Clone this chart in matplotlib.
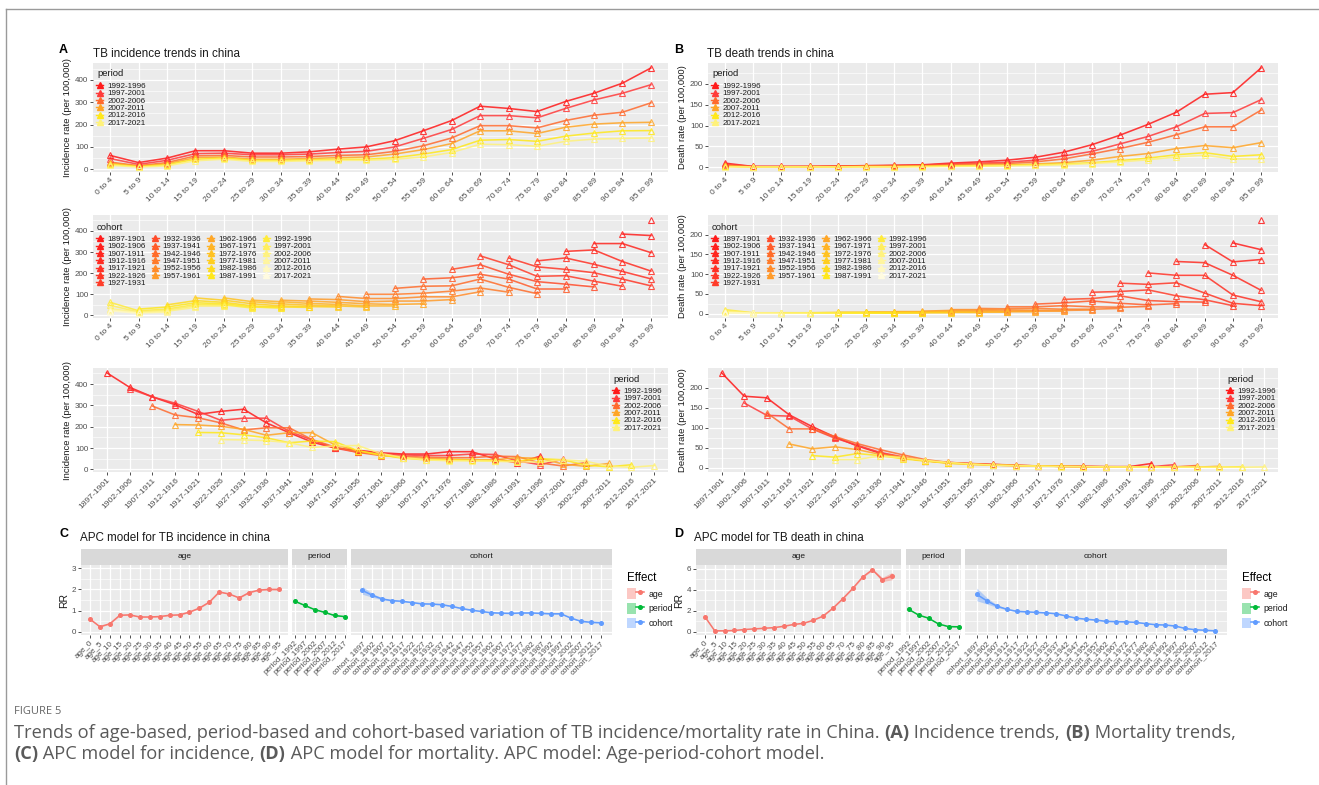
import matplotlib
matplotlib.use("Agg")
import matplotlib.pyplot as plt
import numpy as np
from matplotlib.colors import LinearSegmentedColormap
from matplotlib.lines import Line2D
from matplotlib.patches import Patch
from matplotlib.legend_handler import HandlerTuple
from matplotlib.ticker import AutoMinorLocator

W, H = 1319, 785
plt.rcParams['font.family'] = ['Liberation Sans', 'DejaVu Sans']

# ---- data -------------------------------------------------------------
age_groups = ["0 to 4", "5 to 9", "10 to 14", "15 to 19", "20 to 24", "25 to 29",
              "30 to 34", "35 to 39", "40 to 44", "45 to 49", "50 to 54", "55 to 59",
              "60 to 64", "65 to 69", "70 to 74", "75 to 79", "80 to 84", "85 to 89",
              "90 to 94", "95 to 99"]
periods = ["1992-1996", "1997-2001", "2002-2006", "2007-2011", "2012-2016", "2017-2021"]
cohorts = ["1897-1901", "1902-1906", "1907-1911", "1912-1916", "1917-1921", "1922-1926",
           "1927-1931", "1932-1936", "1937-1941", "1942-1946", "1947-1951", "1952-1956",
           "1957-1961", "1962-1966", "1967-1971", "1972-1976", "1977-1981", "1982-1986",
           "1987-1991", "1992-1996", "1997-2001", "2002-2006", "2007-2011", "2012-2016",
           "2017-2021"]

# incidence per 100,000 by age group, one list per period
inc_1992 = [62, 30, 50, 83, 83, 72, 72, 78, 90, 100, 128, 172, 218, 282, 272, 258, 303, 340, 385, 453]
inc_1997 = [48, 22, 40, 70, 72, 65, 65, 68, 75, 80, 100, 138, 178, 240, 240, 230, 272, 310, 340, 378]
inc_2002 = [32, 16, 30, 60, 62, 55, 55, 57, 62, 65, 80, 105, 140, 195, 195, 185, 218, 242, 255, 297]
inc_2007 = [28, 14, 25, 52, 55, 45, 45, 48, 52, 55, 68, 88, 115, 172, 172, 160, 188, 202, 208, 210]
inc_2012 = [22, 12, 20, 45, 50, 40, 40, 42, 45, 45, 52, 68, 88, 130, 133, 125, 148, 162, 172, 173]
inc_2017 = [18, 10, 15, 38, 45, 35, 35, 38, 40, 40, 45, 55, 75, 112, 110, 103, 125, 135, 138, 140]

# deaths per 100,000 by age group, one list per period
death_1992 = [10, 2, 2, 2, 3, 4, 5, 6, 10, 13, 17, 24, 36, 54, 77, 103, 132, 175, 179, 238]
death_1997 = [7, 2, 2, 2, 3, 3, 4, 5, 8, 10, 12, 17, 27, 38, 56, 74, 97, 129, 131, 162]
death_2002 = [5, 1.5, 1.5, 2, 2, 3, 3, 4, 6, 8, 9, 13, 20, 32, 45, 60, 78, 97, 97, 137]
death_2007 = [3, 1, 1, 1.5, 1.5, 2, 2, 3, 4, 5, 6, 8, 11, 17, 26, 33, 45, 52, 47, 59]
death_2012 = [2, 0.8, 0.8, 1, 1, 1.5, 1.5, 2, 3, 3.5, 4.5, 6, 8, 11, 16, 22, 30, 35, 26, 30]
death_2017 = [1.5, 0.6, 0.6, 0.8, 0.8, 1, 1.2, 1.5, 2, 2.5, 3.5, 4.5, 6, 9, 13, 18, 25, 29, 20, 20]

inc_ticks = [0, 100, 200, 300, 400]
death_ticks = [0, 50, 100, 150, 200]

# APC model effects (rate ratios) and CI half widths
apc_age_labels = ["age_0", "age_5", "age_10", "age_15", "age_20", "age_25", "age_30",
                  "age_35", "age_40", "age_45", "age_50", "age_55", "age_60", "age_65",
                  "age_70", "age_75", "age_80", "age_85", "age_90", "age_95"]
apc_period_labels = ["period_1992", "period_1997", "period_2002", "period_2007",
                     "period_2012", "period_2017"]
apc_cohort_labels = ["cohort_1897", "cohort_1902", "cohort_1907", "cohort_1912",
                     "cohort_1917", "cohort_1922", "cohort_1927", "cohort_1932",
                     "cohort_1937", "cohort_1942", "cohort_1947", "cohort_1952",
                     "cohort_1957", "cohort_1962", "cohort_1967", "cohort_1972",
                     "cohort_1977", "cohort_1982", "cohort_1987", "cohort_1992",
                     "cohort_1997", "cohort_2002", "cohort_2007", "cohort_2012",
                     "cohort_2017"]

inc_age_rr = [0.60, 0.24, 0.38, 0.78, 0.80, 0.70, 0.70, 0.72, 0.78, 0.80, 0.93, 1.12,
              1.40, 1.88, 1.78, 1.60, 1.85, 1.97, 2.00, 2.00]
inc_age_ci = [0.03, 0.02, 0.02, 0.02, 0.02, 0.02, 0.02, 0.02, 0.02, 0.02, 0.02, 0.02,
              0.02, 0.02, 0.02, 0.02, 0.02, 0.02, 0.03, 0.04]
inc_period_rr = [1.45, 1.25, 1.05, 0.92, 0.77, 0.72]
inc_period_ci = [0.02, 0.02, 0.02, 0.02, 0.02, 0.02]
inc_cohort_rr = [1.95, 1.72, 1.55, 1.47, 1.44, 1.38, 1.32, 1.31, 1.28, 1.20, 1.10, 1.02,
                 0.96, 0.90, 0.88, 0.87, 0.89, 0.89, 0.87, 0.85, 0.85, 0.65, 0.50, 0.45,
                 0.43]
inc_cohort_ci = [0.18, 0.09, 0.04, 0.03, 0.02, 0.02, 0.02, 0.02, 0.02, 0.02, 0.02, 0.02,
                 0.02, 0.02, 0.02, 0.02, 0.02, 0.02, 0.02, 0.02, 0.02, 0.02, 0.02, 0.02,
                 0.03]

death_age_rr = [1.44, 0.10, 0.10, 0.13, 0.22, 0.28, 0.34, 0.40, 0.53, 0.70, 0.81, 1.10,
                1.50, 2.25, 3.15, 4.12, 5.20, 5.90, 4.97, 5.30]
death_age_ci = [0.05, 0.02, 0.02, 0.02, 0.02, 0.02, 0.02, 0.02, 0.02, 0.02, 0.02, 0.03,
                0.03, 0.04, 0.05, 0.05, 0.06, 0.08, 0.20, 0.35]
death_period_rr = [2.15, 1.60, 1.30, 0.75, 0.50, 0.48]
death_period_ci = [0.04, 0.03, 0.03, 0.03, 0.03, 0.03]
death_cohort_rr = [3.55, 2.95, 2.45, 2.15, 1.95, 1.90, 1.85, 1.80, 1.72, 1.50, 1.30, 1.20,
                   1.12, 1.00, 0.97, 0.95, 0.90, 0.78, 0.68, 0.65, 0.55, 0.32, 0.20, 0.15,
                   0.10]
death_cohort_ci = [0.60, 0.30, 0.12, 0.06, 0.04, 0.03, 0.03, 0.03, 0.03, 0.03, 0.03, 0.03,
                   0.03, 0.03, 0.03, 0.03, 0.03, 0.03, 0.03, 0.03, 0.03, 0.03, 0.03, 0.03,
                   0.03]

incidence = [inc_1992, inc_1997, inc_2002, inc_2007, inc_2012, inc_2017]
deaths = [death_1992, death_1997, death_2002, death_2007, death_2012, death_2017]

# ---- styling ----------------------------------------------------------
period_colors = ['#FF1A1A', '#FF3B3B', '#FF6A2E', '#FFA526', '#FFE81A', '#FFF27A']
ramp = LinearSegmentedColormap.from_list(
    'ramp', [(0, '#FF1A1A'), (0.25, '#FF3D2A'), (0.5, '#FF9A2A'),
             (0.75, '#FFE81A'), (1, '#FFFBE0')])
cohort_colors = [ramp(i / (len(cohorts) - 1)) for i in range(len(cohorts))]
effect_colors = {'age': '#F8766D', 'period': '#00BA38', 'cohort': '#619CFF'}
TXT = '#4D4D4D'


def px_axes(fig, left, top, right, bottom):
    return fig.add_axes([left / W, 1 - bottom / H, (right - left) / W, (bottom - top) / H])


def gg_style(ax):
    ax.set_facecolor('#EBEBEB')
    for s in ax.spines.values():
        s.set_visible(False)
    ax.yaxis.set_minor_locator(AutoMinorLocator(2))
    ax.grid(which='major', color='white', lw=0.9)
    ax.grid(which='minor', axis='y', color='white', lw=0.45)
    ax.tick_params(which='major', color='#333333', labelcolor=TXT, length=2.2,
                   width=0.6, labelsize=5.8, pad=1.2)
    ax.tick_params(which='minor', length=0)
    ax.set_axisbelow(True)


def gg_ylim(ax, values):
    lo, hi = min(values), max(values)
    pad = 0.05 * (hi - lo)
    ax.set_ylim(lo - pad, hi + pad)


def draw_line(ax, xs, ys, color):
    ax.plot(xs, ys, color=color, lw=1.15, alpha=0.85, zorder=2)
    ax.plot(xs, ys, ls='none', marker='^', ms=4.3, mfc='none', mec=color, mew=0.8,
            alpha=0.85, zorder=3)


def xcats(ax, labels, size=6.1):
    ax.set_xticks(range(len(labels)))
    ax.set_xticklabels(labels, rotation=45, ha='right', va='top',
                       rotation_mode='anchor', fontsize=size, color=TXT)
    ax.set_xlim(-0.6, len(labels) - 0.4)


def key_legend(fig, colors, labels, title, x, y, ncol=1, colsp=0.7):
    # title drawn on its own so the gap to the keys can be set freely
    fig.text((x + 1) / W, 1 - y / H, title, fontsize=6.8, color='#1A1A1A', va='center')
    handles = [Line2D([], [], color=c, lw=1, marker='^', ms=3.8) for c in colors]
    leg = fig.legend(handles, labels, loc='upper left',
                     bbox_to_anchor=(x / W, 1 - (y + 8.5) / H), frameon=False, ncol=ncol,
                     fontsize=5.8, handlelength=0.9,
                     handletextpad=0.5, labelspacing=-0.04, borderpad=0,
                     borderaxespad=0, columnspacing=colsp)
    for t in leg.get_texts():
        t.set_color('#1A1A1A')
    return leg


def by_cohort(rates):
    series = []
    na = len(age_groups)
    for c in range(len(cohorts)):
        xs, ys = [], []
        for a in range(na):
            p = c + a - (na - 1)
            if 0 <= p < len(periods):
                xs.append(a)
                ys.append(rates[p][a])
        series.append((xs, ys))
    return series


def along_cohort(rates, p):
    na = len(age_groups)
    pts = sorted((p - a + na - 1, rates[p][a]) for a in range(na))
    return [q[0] for q in pts], [q[1] for q in pts]


def trend_block(fig, rates, ylabel, ticks, left, right, tops):
    allv = [v for row in rates for v in row]
    axes = []
    for top, bottom in tops:
        ax = px_axes(fig, left, top, right, bottom)
        gg_style(ax)
        gg_ylim(ax, allv)
        ax.set_yticks(ticks)
        ax.set_ylabel(ylabel, fontsize=6.8, color='#1A1A1A', labelpad=2)
        axes.append(ax)
    a1, a2, a3 = axes
    for p, c in enumerate(period_colors):
        draw_line(a1, range(len(age_groups)), rates[p], c)
    xcats(a1, age_groups)
    for (xs, ys), c in zip(by_cohort(rates), cohort_colors):
        draw_line(a2, xs, ys, c)
    xcats(a2, age_groups)
    for p, c in enumerate(period_colors):
        xs, ys = along_cohort(rates, p)
        draw_line(a3, xs, ys, c)
    xcats(a3, cohorts)
    return axes


fig = plt.figure(figsize=(W / 100, H / 100), dpi=100)
fig.patch.set_facecolor('white')

# page frame
fig.add_artist(Line2D([6 / W, 6 / W], [0, 1 - 9 / H], transform=fig.transFigure,
                      color='#9A9A9A', lw=1))
fig.add_artist(Line2D([6 / W, 1], [1 - 9 / H, 1 - 9 / H], transform=fig.transFigure,
                      color='#9A9A9A', lw=1))

rows = [(63, 172), (215, 318), (368, 472)]
trend_block(fig, incidence, 'Incidence rate (per 100,000)', inc_ticks, 93, 668, rows)
trend_block(fig, deaths, 'Death rate (per 100,000)', death_ticks, 708, 1278, rows)

key_legend(fig, period_colors, periods, 'period', 96, 74)
key_legend(fig, cohort_colors, cohorts, 'cohort', 96, 227, ncol=4)
key_legend(fig, period_colors, periods, 'period', 612, 379)
key_legend(fig, period_colors, periods, 'period', 711, 74)
key_legend(fig, cohort_colors, cohorts, 'cohort', 711, 227, ncol=4)
key_legend(fig, period_colors, periods, 'period', 1226, 379)


def apc_block(fig, groups, ylim, yticks, extents, legend_x):
    first = True
    for (name, labels, rr, ci, pad), (l, r) in zip(groups, extents):
        strip = px_axes(fig, l, 549, r, 565)
        strip.set_facecolor('#D9D9D9')
        strip.set_xticks([])
        strip.set_yticks([])
        for s in strip.spines.values():
            s.set_visible(False)
        strip.text(0.5, 0.5, name, ha='center', va='center', fontsize=6,
                   color='#1A1A1A', transform=strip.transAxes)
        ax = px_axes(fig, l, 565, r, 635)
        gg_style(ax)
        x = np.arange(len(rr))
        rr_a, ci_a = np.array(rr), np.array(ci)
        col = effect_colors[name]
        ax.fill_between(x, rr_a - ci_a, rr_a + ci_a, color=col, alpha=0.4, lw=0)
        ax.plot(x, rr_a, color=col, lw=1.1, marker='o', ms=2.6)
        ax.set_xticks(x)
        ax.set_xticklabels(labels, rotation=45, ha='right', va='top',
                           rotation_mode='anchor', fontsize=5.8, color=TXT)
        ax.set_xlim(-pad, len(rr) - 1 + pad)
        ax.set_ylim(*ylim)
        ax.set_yticks(yticks)
        if first:
            ax.set_ylabel('RR', fontsize=7.5, color='#1A1A1A', labelpad=2)
            first = False
        else:
            ax.tick_params(axis='y', which='both', left=False, labelleft=False)
    handles = [(Patch(facecolor=effect_colors[k], alpha=0.4, lw=0),
                Line2D([], [], color=effect_colors[k], lw=1.1, marker='o', ms=2.6))
               for k in ['age', 'period', 'cohort']]
    leg = fig.legend(handles, ['age', 'period', 'cohort'], title='Effect',
                     handler_map={tuple: HandlerTuple(ndivide=None)},
                     loc='upper left', bbox_to_anchor=(legend_x / W, 1 - 568 / H),
                     frameon=False, fontsize=6.3, title_fontsize=8.3, handlelength=1.9,
                     handleheight=1.5, handletextpad=0.5, labelspacing=0.45,
                     borderpad=0, alignment='left')
    for t in leg.get_texts():
        t.set_color('#1A1A1A')


apc_block(fig,
          [('age', apc_age_labels, inc_age_rr, inc_age_ci, 0.9),
           ('period', apc_period_labels, inc_period_rr, inc_period_ci, 0.25),
           ('cohort', apc_cohort_labels, inc_cohort_rr, inc_cohort_ci, 1.15)],
          (-0.15, 3.15), [0, 1, 2, 3], [(81, 288), (292, 347), (351, 612)], 623)
apc_block(fig,
          [('age', apc_age_labels, death_age_rr, death_age_ci, 0.9),
           ('period', apc_period_labels, death_period_rr, death_period_ci, 0.25),
           ('cohort', apc_cohort_labels, death_cohort_rr, death_cohort_ci, 1.2)],
          (-0.3, 6.35), [0, 2, 4, 6], [(696, 901), (906, 961), (965, 1227)], 1238)

# panel letters and titles
for letter, title, lx, tx, y in [('A', 'TB incidence trends in china', 59, 93, 54),
                                 ('B', 'TB death trends in china', 674, 707, 54),
                                 ('C', 'APC model for TB incidence in china', 60, 80, 538),
                                 ('D', 'APC model for TB death in china', 674, 694, 538)]:
    fig.text(lx / W, 1 - (y - 4) / H, letter, fontsize=9, weight='bold', va='center')
    fig.text(tx / W, 1 - y / H, title, fontsize=8.4, color='#1A1A1A', va='center')

# caption
CAP_FONT = ['Open Sans', 'DejaVu Sans']
fig.text(14 / W, 1 - 712 / H, 'FIGURE 5', fontsize=8, color='#666666', va='center',
         family=CAP_FONT)

renderer = fig.canvas.get_renderer()


def run_width(text, weight, size):
    t1 = fig.text(0, 0, text + '.', fontsize=size, weight=weight, family=CAP_FONT)
    t2 = fig.text(0, 0, '.', fontsize=size, weight=weight, family=CAP_FONT)
    w = t1.get_window_extent(renderer).width - t2.get_window_extent(renderer).width
    t1.remove()
    t2.remove()
    return w


def rich_line(x, y, runs, size, color='#5A5A5A'):
    for text, weight in runs:
        fig.text(x / W, 1 - y / H, text, fontsize=size, weight=weight, color=color,
                 family=CAP_FONT, va='baseline')
        x += run_width(text, weight, size)


line1 = [('Trends of age-based, period-based and cohort-based variation of TB '
          'incidence/mortality rate in China. ', 'normal'),
         ('(A)', 'bold'), (' Incidence trends, ', 'normal'),
         ('(B)', 'bold'), (' Mortality trends,', 'normal')]
line2 = [('(C)', 'bold'), (' APC model for incidence, ', 'normal'),
         ('(D)', 'bold'), (' APC model for mortality. APC model: '
                           'Age-period-cohort model.', 'normal')]
# size the caption so the first line fills the text block
base = sum(run_width(t, w, 10) for t, w in line1)
cap_size = 10 * 1223 / base
rich_line(14, 738, line1, cap_size)
rich_line(14, 759, line2, cap_size)

fig.savefig('out.png', dpi=100)
